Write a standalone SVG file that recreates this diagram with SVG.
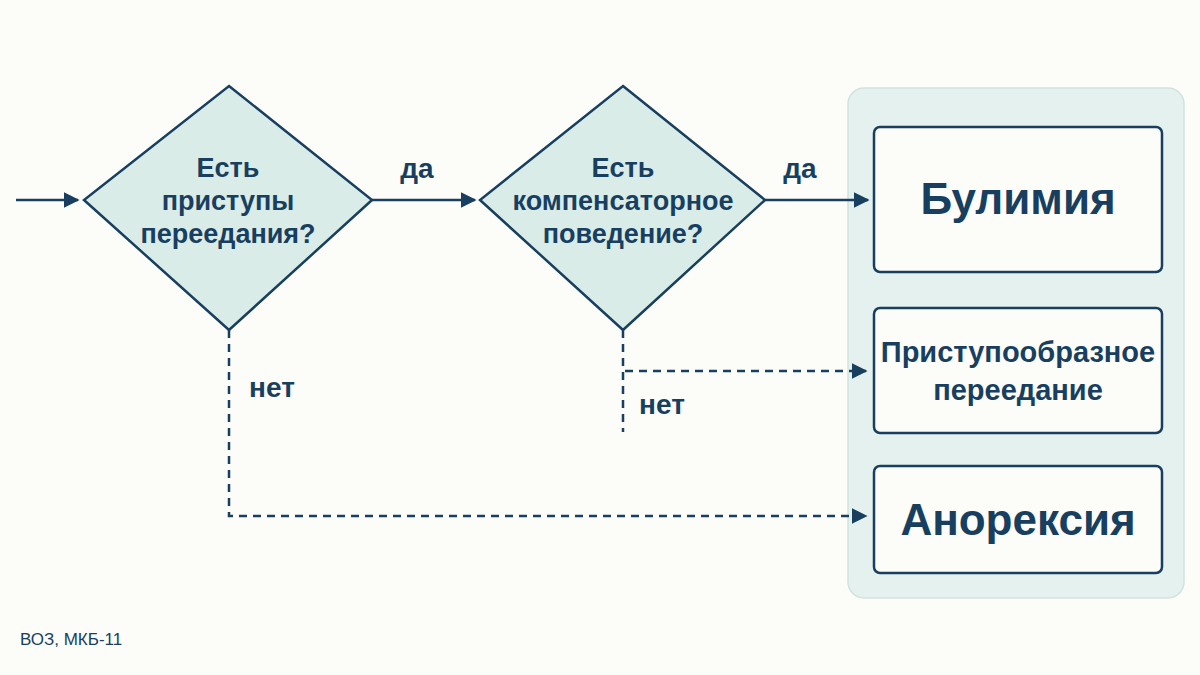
<svg xmlns="http://www.w3.org/2000/svg" width="1200" height="675" viewBox="0 0 1200 675">
<defs>
<marker id="ah" viewBox="0 0 10 10" refX="9" refY="5" markerWidth="16" markerHeight="16" markerUnits="userSpaceOnUse" orient="auto"><path d="M0,0 L10,5 L0,10 Z" fill="#183f5f"/></marker>
</defs>
<style>
.t{font-family:"Liberation Sans",Arial,sans-serif;font-weight:bold;fill:#183f5f;text-anchor:middle}
.d{fill:#d9ece8;stroke:#183f5f;stroke-width:2.5}
.b{fill:#fcfcf9;stroke:#183f5f;stroke-width:2.5}
.c{stroke:#183f5f;stroke-width:2.5;fill:none}
.dash{stroke-dasharray:8,6}
</style>
<rect width="1200" height="675" fill="#fcfcf8"/>
<rect x="848" y="88" width="336" height="510" rx="16" fill="#e5f1ee" stroke="#cfe3df" stroke-width="1.5"/>
<g id="connectors">
<path class="c" d="M16,200 H78" marker-end="url(#ah)"/>
<path class="c" d="M372,200 H475" marker-end="url(#ah)"/>
<path class="c" d="M765,200 H868" marker-end="url(#ah)"/>
<path class="c dash" d="M229,330 V516 H866" marker-end="url(#ah)"/>
<path class="c dash" d="M623,330 V432"/>
<path class="c dash" d="M625,371 H866" marker-end="url(#ah)"/>
<text class="t" x="417" y="178" font-size="28">да</text>
<text class="t" x="800" y="178" font-size="28">да</text>
<text class="t" x="272" y="397" font-size="28">нет</text>
<text class="t" x="662" y="414" font-size="28">нет</text>
</g>
<g id="q1"><path class="d" d="M229,86 L372,200 L229,330 L84,200 Z"/>
<text class="t" font-size="27"><tspan x="228" y="177">Есть</tspan><tspan x="228" y="210">приступы</tspan><tspan x="228" y="243">переедания?</tspan></text></g>
<g id="q2"><path class="d" d="M623,86 L765,200 L623,330 L480,200 Z"/>
<text class="t" font-size="27"><tspan x="623" y="177">Есть</tspan><tspan x="623" y="210">компенсаторное</tspan><tspan x="623" y="243">поведение?</tspan></text></g>
<g id="n1"><rect class="b" x="874" y="127" width="288" height="145" rx="6"/><text class="t" x="1018" y="214" font-size="44">Булимия</text></g>
<g id="n2"><rect class="b" x="874" y="308" width="288" height="125" rx="6"/><text class="t" font-size="29"><tspan x="1018" y="362">Приступообразное</tspan><tspan x="1018" y="400">переедание</tspan></text></g>
<g id="n3"><rect class="b" x="874" y="466" width="288" height="107" rx="6"/><text class="t" x="1018" y="535" font-size="44">Анорексия</text></g>
<text x="20" y="645" font-family="Liberation Sans,Arial,sans-serif" font-size="17" fill="#183f5f">ВОЗ, МКБ-11</text>
</svg>
